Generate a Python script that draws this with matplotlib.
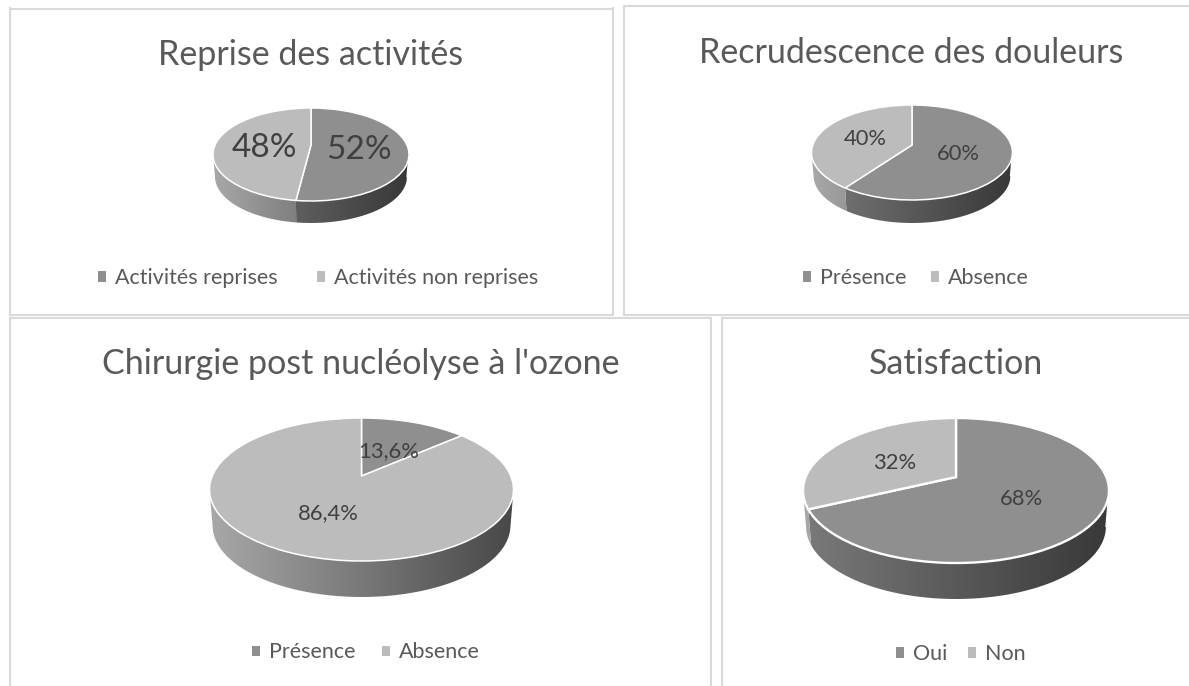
import numpy as np
import matplotlib
matplotlib.use("Agg")
import matplotlib.pyplot as plt
from matplotlib.colors import LinearSegmentedColormap
from matplotlib.patches import Patch
from matplotlib.path import Path
from matplotlib.transforms import Transform

# ---- data ----
titles = ["Reprise des activités", "Recrudescence des douleurs",
          "Chirurgie post nucléolyse à l'ozone", "Satisfaction"]
reprise_labels = ["Activités reprises", "Activités non reprises"]
reprise_values = [52, 48]
douleurs_labels = ["Présence", "Absence"]
douleurs_values = [60, 40]
chirurgie_labels = ["Présence", "Absence"]
chirurgie_values = [13.6, 86.4]
satisfaction_labels = ["Oui", "Non"]
satisfaction_values = [68, 32]

W, H = 1189, 686
DARK, LIGHT = "#8f8f8f", "#bcbcbc"
BORDER = "#d9d9d9"
TITLE_C, LEG_C, LAB_C = "#595959", "#595959", "#404040"
plt.rcParams["font.family"] = ["Lato", "DejaVu Sans"]


class PieProjection(Transform):
    """Perspective view of the unit-circle pie, in pixel-like data units."""
    input_dims = output_dims = 2

    def __init__(self, cx, apex_y, top, bottom, half_width):
        super().__init__()
        up, down = apex_y - top, bottom - apex_y
        self.k = (down - up) / (down + up)
        self.b = up * (1 + self.k)
        self.a = half_width * np.sqrt(1 - self.k ** 2)
        self.cx, self.apex_y = cx, apex_y

    def transform_non_affine(self, values):
        values = np.asarray(values, dtype=float)
        d = 1 + self.k * values[:, 1]
        return np.column_stack((self.cx + self.a * values[:, 0] / d,
                                self.apex_y - self.b * values[:, 1] / d))


layouts = [
    dict(frame=(10, 8.5, 612.5, 315), hide=[], cx=311, apex=145, top=108, bottom=201,
         rx=98, depth=22, title=(311, 55, 24.5), lab_fs=24,
         lab=[(359, 150), (264, 148)], leg=(318, 278, 40), leg_fs=15.5, edge=1.1),
    dict(frame=(623.5, 6, 1189, 315), hide=["right"], cx=912, apex=145, top=105, bottom=200,
         rx=100.5, depth=23, title=(911, 53, 24.5), lab_fs=15.8,
         lab=[(958, 154), (865, 139)], leg=(916, 278, 25), leg_fs=15.5, edge=1.1),
    dict(frame=(10, 318, 711, 686), hide=["bottom"], cx=361.5, apex=476, top=418, bottom=561,
         rx=152, depth=36, title=(360.5, 364, 24.5), lab_fs=15.8,
         lab=[(388.5, 451), (328, 513)], leg=(366, 652.5, 26), leg_fs=15.5, edge=1.1),
    dict(frame=(722, 318, 1189, 686), hide=["right", "bottom"], cx=956, apex=477, top=418, bottom=563,
         rx=153, depth=36, title=(956, 364, 24.5), lab_fs=15.8,
         lab=[(1022, 499), (895, 463)], leg=(961, 654, 21), leg_fs=15.5, edge=1.7),
]
series = [
    (reprise_labels, reprise_values, ["{:.0f}%"] * 2),
    (douleurs_labels, douleurs_values, ["{:.0f}%"] * 2),
    (chirurgie_labels, chirurgie_values, ["{:.1f}%"] * 2),
    (satisfaction_labels, satisfaction_values, ["{:.0f}%"] * 2),
]
wall_maps = [LinearSegmentedColormap.from_list("d", ["#7a7a7a", "#383838"]),
             LinearSegmentedColormap.from_list("l", ["#a8a8a8", "#484848"])]

fig = plt.figure(figsize=(W / 100, H / 100), dpi=100, facecolor="white")

for title, (names, values, fmts), L in zip(titles, series, layouts):
    x0, y0, x1, y1 = L["frame"]
    ax = fig.add_axes([x0 / W, 1 - y1 / H, (x1 - x0) / W, (y1 - y0) / H])
    proj = PieProjection(L["cx"], L["apex"], L["top"], L["bottom"], L["rx"])

    wedges, _ = ax.pie(values, colors=[DARK, LIGHT], startangle=90, counterclock=False,
                       wedgeprops=dict(edgecolor="white", linewidth=L["edge"]))
    for w in wedges:
        w.set_transform(proj + ax.transData)
        w.set_zorder(5)

    # front wall of each slice
    delta = np.degrees(np.arcsin(proj.k))
    seps = []
    for w, cmap in zip(wedges, wall_maps):
        for n in (-1, 0, 1):
            lo = max(w.theta1, -180 + delta + 360 * n)
            hi = min(w.theta2, -delta + 360 * n)
            if hi <= lo:
                continue
            t = np.radians(np.linspace(lo, hi, 120))
            pts = proj.transform(np.column_stack((np.cos(t), np.sin(t))))
            low = pts.copy()
            low[:, 0] = L["cx"] + (low[:, 0] - L["cx"]) * 0.98
            low[:, 1] += L["depth"]
            poly = np.vstack((pts, low[::-1], pts[:1]))
            im = ax.imshow(np.linspace(0, 1, 256).reshape(1, -1), cmap=cmap, aspect="auto",
                           extent=(L["cx"] - L["rx"], L["cx"] + L["rx"],
                                   L["bottom"] + L["depth"] + 2, L["top"]),
                           interpolation="bilinear", zorder=2)
            im.set_clip_path(Path(poly), transform=ax.transData)
            seps.append((pts, low))
    for (p1, l1), (p2, l2) in zip(seps, seps[1:]):
        ax.plot([p1[-1, 0], l1[-1, 0]], [p1[-1, 1], l1[-1, 1]], color="white", lw=0.9, zorder=3)

    # chart furniture
    tx, ty, tfs = L["title"]
    ax.text(tx, ty, title, ha="center", va="center", fontsize=tfs, color=TITLE_C)
    for v, fmt, (lx, ly) in zip(values, fmts, L["lab"]):
        ax.text(lx, ly, fmt.format(v).replace(".", ","), ha="center", va="center",
                fontsize=L["lab_fs"], color=LAB_C, zorder=6)

    lx, ly, gap = L["leg"]
    fpx = L["leg_fs"] * 100 / 72
    handles = [Patch(facecolor=DARK, edgecolor="none"), Patch(facecolor=LIGHT, edgecolor="none")]
    ax.legend(handles, names, ncol=2, loc="center", bbox_to_anchor=(lx, ly),
              bbox_transform=ax.transData, frameon=False, fontsize=L["leg_fs"],
              labelcolor=LEG_C, handlelength=8 / fpx, handleheight=8 / fpx,
              handletextpad=9 / fpx, columnspacing=gap / fpx, borderpad=0, borderaxespad=0)

    ax.set_aspect("auto")
    ax.set_xlim(x0, x1)
    ax.set_ylim(y1, y0)
    ax.set_xticks([])
    ax.set_yticks([])
    ax.set_frame_on(True)
    for s in ax.spines.values():
        s.set_color(BORDER)
        s.set_linewidth(1.5)
        s.set_visible(True)
    for s in L["hide"]:
        ax.spines[s].set_visible(False)

fig.savefig("out.png", dpi=100, facecolor="white")
